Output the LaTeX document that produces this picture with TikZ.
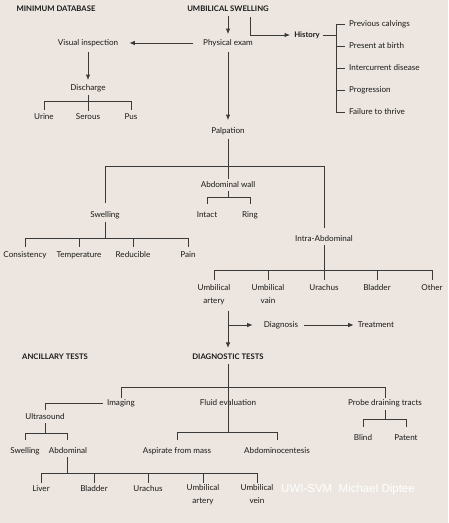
\documentclass[tikz,border=0pt]{standalone}
\usepackage{fontspec}
\setmainfont{Lato}
\newfontfamily\wmfont{Liberation Sans}
\usetikzlibrary{arrows.meta}
\definecolor{bg}{RGB}{237,230,224}
\definecolor{lnc}{RGB}{58,58,58}
\definecolor{txc}{RGB}{25,25,25}
\tikzset{
  lbl/.style={inner sep=0pt, text=txc, font=\fontsize{8.1}{13}\selectfont, align=center},
  hdr/.style={inner sep=0pt, text=txc, font=\bfseries\fontsize{7.7}{9}\selectfont},
  itm/.style={lbl, anchor=west},
  ln/.style={draw=lnc, line width=0.85pt},
  arr/.style={ln, -{Latex[length=5.5pt,width=4.5pt]}},
}
\begin{document}
\begin{tikzpicture}[x=1pt,y=-1pt]
\fill[bg] (0,0) rectangle (448,523);
\useasboundingbox (0,0) rectangle (448,523);

% ---------- top ----------
\node[hdr] (mdb) at (56,9) {MINIMUM DATABASE};
\node[hdr] (us) at (228,9) {UMBILICAL SWELLING};
\node[lbl] (pe) at (228,43) {Physical exam};
\node[hdr] (hist) at (307,35) {History};
\node[itm] (h1) at (349,24) {Previous calvings};
\node[itm] (h2) at (349,46) {Present at birth};
\node[itm] (h3) at (349,68) {Intercurrent disease};
\node[itm] (h4) at (349,90) {Progression};
\node[itm] (h5) at (349,112) {Failure to thrive};
\node[lbl] (vi) at (88,43) {Visual inspection};
\node[lbl] (dis) at (88,88) {Discharge};
\node[lbl] (ur) at (44,117) {Urine};
\node[lbl] (ser) at (88,117) {Serous};
\node[lbl] (pus) at (131,117) {Pus};
\node[lbl] (palp) at (228,131) {Palpation};

\coordinate (usr) at (250,17);
\coordinate (hb) at (336,35);
\coordinate (dj) at (88,101);

\draw[arr, shorten <=4pt, shorten >=5pt] (us.south) -- (pe.north);
\draw[arr, shorten >=4pt] (usr) |- (hist.west);
\draw[ln, shorten <=3pt] (hist.east) -- (hb);
\draw[ln, shorten <=4pt] (h1.west) -| (hb);
\draw[ln, shorten >=4pt] (hb) |- (h5.west);
\foreach \h in {h2,h3,h4}{\draw[ln, shorten <=4pt] (\h.west) -- (\h.west -| hb);}
\draw[arr, shorten <=10pt, shorten >=11pt] (pe.west) -- (vi.east);
\draw[arr, shorten <=5pt, shorten >=4pt] (vi.south) -- (dis.north);
\draw[ln, shorten <=3pt, shorten >=3pt] (dis.south) -- (ser.north);
\draw[ln] (ur |- dj) -- (pus |- dj);
\draw[ln] (ur |- dj) -- ++(0,9);
\draw[ln] (pus |- dj) -- ++(0,9);
\draw[arr, shorten <=5pt, shorten >=7pt] (pe.south) -- (palp.north);

% ---------- palpation ----------
\node[lbl] (aw) at (228,185) {Abdominal wall};
\node[lbl] (int) at (207,215) {Intact};
\node[lbl] (ring) at (250,215) {Ring};
\node[lbl] (swl) at (105,215) {Swelling};
\node[lbl] (cons) at (25,255) {Consistency};
\node[lbl] (temp) at (79,255) {Temperature};
\node[lbl] (red) at (133,255) {Reducible};
\node[lbl] (pain) at (188,255) {Pain};
\node[lbl] (ia) at (324,239) {Intra-Abdominal};

\coordinate (pj) at (228,166);
\coordinate (awj) at (228,197);
\coordinate (swj) at (105,238);

\draw[ln, shorten <=4pt, shorten >=3pt] (palp.south) -- (aw.north);
\draw[ln] (swl |- pj) -- (ia |- pj);
\draw[ln, shorten >=8pt] (swl |- pj) -- (swl.north);
\draw[ln, shorten >=8pt] (ia |- pj) -- (ia.north);
\draw[ln, shorten <=3pt] (aw.south) -- (awj);
\draw[ln] (int |- awj) -- (ring |- awj);
\draw[ln] (int |- awj) -- ++(0,7);
\draw[ln] (ring |- awj) -- ++(0,7);
\draw[ln, shorten <=3pt] (swl.south) -- (swj);
\draw[ln] (cons |- swj) -- (pain |- swj);
\foreach \n in {cons,temp,red,pain}{\draw[ln] (\n |- swj) -- ++(0,9);}

% ---------- intra-abdominal ----------
\node[lbl] (ua) at (214,294.5) {Umbilical\\artery};
\node[lbl] (uv) at (268,294.5) {Umbilical\\vain};
\node[lbl] (urc) at (324,288) {Urachus};
\node[lbl] (bla) at (377,288) {Bladder};
\node[lbl] (oth) at (432,288) {Other};
\coordinate (iaj) at (324,270);
\draw[ln, shorten <=3pt] (ia.south) -- (iaj);
\draw[ln] (ua |- iaj) -- (oth |- iaj);
\foreach \n in {ua,uv,urc,bla,oth}{\draw[ln] (\n |- iaj) -- ++(0,10);}

\node[lbl] (diag) at (281,325) {Diagnosis};
\node[lbl] (treat) at (376,325) {Treatment};
\node[hdr] (anc) at (55,357) {ANCILLARY TESTS};
\node[hdr] (dt) at (228,357) {DIAGNOSTIC TESTS};
\coordinate (dtop) at (228,311);
\coordinate (dbr) at (228,325);
\draw[arr, shorten >=6pt] (dtop) -- (dt.north);
\draw[arr, shorten >=11pt] (dbr) -- (diag.west);
\draw[arr, shorten <=6pt, shorten >=4pt] (diag.east) -- (treat.west);

% ---------- diagnostic tests ----------
\node[lbl] (img) at (121,403) {Imaging};
\node[lbl] (fe) at (228,403) {Fluid evaluation};
\node[lbl] (pdt) at (385,403) {Probe draining tracts};
\node[lbl] (ult) at (45,417) {Ultrasound};
\node[lbl] (sw2) at (25,451) {Swelling};
\node[lbl] (abd) at (68,451) {Abdominal};
\node[lbl] (asp) at (177,451) {Aspirate from mass};
\node[lbl] (abc) at (277,451) {Abdominocentesis};
\node[lbl] (blind) at (363,438) {Blind};
\node[lbl] (pat) at (406,438) {Patent};
\node[lbl] (liv) at (41,489) {Liver};
\node[lbl] (bl2) at (94,489) {Bladder};
\node[lbl] (urc2) at (148,489) {Urachus};
\node[lbl] (ua2) at (203,494.5) {Umbilical\\artery};
\node[lbl] (uv2) at (257,494.5) {Umbilical\\vein};

\coordinate (dtj) at (228,387);
\coordinate (fj) at (228,432);
\coordinate (pj2) at (385,419);
\coordinate (uj) at (45,433);
\coordinate (aj) at (67,473);

\draw[ln, shorten <=4pt] (dt.south) -- (fj);
\draw[ln] (img |- dtj) -- (pdt |- dtj);
\draw[ln] (img |- dtj) -- ++(0,11);
\draw[ln] (pdt |- dtj) -- ++(0,11);
\draw[ln, shorten <=4pt, shorten >=4pt] (img.west) -| (ult.north);
\draw[ln, shorten <=3pt] (ult.south) -- (uj);
\draw[ln] (sw2 |- uj) -- (aj |- uj);
\draw[ln] (sw2 |- uj) -- ++(0,7);
\draw[ln] (aj |- uj) -- ++(0,7);
\draw[ln, shorten <=3pt] (abd.south -| aj) -- (aj);
\draw[ln] (liv |- aj) -- (uv2 |- aj);
\foreach \n in {liv,bl2,urc2,ua2,uv2}{\draw[ln] (\n |- aj) -- ++(0,10);}
\draw[ln] (asp |- fj) -- (abc |- fj);
\draw[ln] (asp |- fj) -- ++(0,8);
\draw[ln] (abc |- fj) -- ++(0,8);
\draw[ln, shorten <=3pt] (pdt.south) -- (pj2);
\draw[ln] (blind |- pj2) -- (pat |- pj2);
\draw[ln] (blind |- pj2) -- ++(0,8);
\draw[ln] (pat |- pj2) -- ++(0,8);

\node[inner sep=0pt, text=white, font=\wmfont\fontsize{11.5}{13}\selectfont] (wm) at (348,490) {UWI-SVM\ \ Michael Diptee};
\end{tikzpicture}
\end{document}
